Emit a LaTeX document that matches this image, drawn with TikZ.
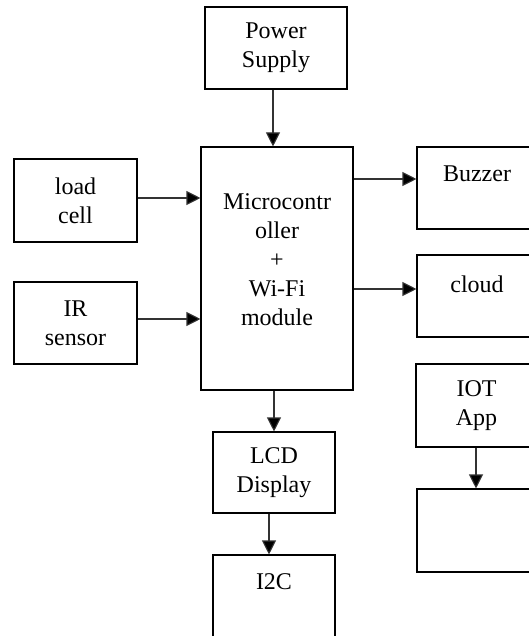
\documentclass[tikz,border=0pt]{standalone}
\usepackage{fontspec}
\setmainfont{Liberation Serif}
\usetikzlibrary{arrows.meta}
\begin{document}
\begin{tikzpicture}[x=1pt,y=-1pt,
  blk/.style={draw=black,line width=1.1pt,inner sep=0pt,align=center,font=\fontsize{24}{29}\selectfont},
  arr/.style={draw=black!80,line width=1.1pt,-{Triangle[length=14pt,width=14pt,fill=black]}}]
\useasboundingbox (0,0) rectangle (529,636);
\clip (0,0) rectangle (529,636);
\node[blk,minimum width=142pt,minimum height=82pt] (pw) at (276,48) {Power\\Supply};
\node[blk,minimum width=123pt,minimum height=83pt] (load) at (75.5,200.5) {load\\cell};
\node[blk,minimum width=123pt,minimum height=82pt] (ir) at (75.5,323) {IR\\sensor};
\node[blk,minimum width=152pt,minimum height=243pt] (mc) at (277,268.5) {Microcontr\\oller\\+\\Wi-Fi\\module\\[-11pt]\mbox{}};
\node[blk,minimum width=120pt,minimum height=82pt] (bz) at (477,188) {Buzzer\\\mbox{}};
\node[blk,minimum width=120pt,minimum height=82pt] (cl) at (477,296) {cloud\\[-6pt]\mbox{}};
\node[blk,minimum width=121pt,minimum height=83pt] (iot) at (476.5,405.5) {IOT\\App};
\node[blk,minimum width=120pt,minimum height=83pt] (emp) at (477,530.5) {};
\node[blk,minimum width=122pt,minimum height=81pt] (lcd) at (274,472.5) {LCD\\Display};
\node[blk,minimum width=122pt,minimum height=82pt] (i2c) at (274,596) {I2C\\\mbox{}};
\coordinate (pwout) at ([xshift=-3pt]pw.south);
\coordinate (loadout) at ([yshift=2.5pt]load.east);
\coordinate (irout) at ([yshift=4pt]ir.east);
\coordinate (bzin) at ([yshift=9pt]bz.west);
\coordinate (clin) at ([yshift=7pt]cl.west);
\coordinate (lcdout) at ([xshift=-5pt]lcd.south);
\coordinate (iotout) at ([xshift=-0.5pt]iot.south);
\draw[arr] (pwout) -- (pwout |- mc.north);
\draw[arr] (loadout) -- (loadout -| mc.west);
\draw[arr] (irout) -- (irout -| mc.west);
\draw[arr] (bzin -| mc.east) -- (bzin);
\draw[arr] (clin -| mc.east) -- (clin);
\draw[arr] (mc.south -| lcd.north) -- (lcd.north);
\draw[arr] (lcdout) -- (lcdout |- i2c.north);
\draw[arr] (iotout) -- (iotout |- emp.north);
\end{tikzpicture}
\end{document}
